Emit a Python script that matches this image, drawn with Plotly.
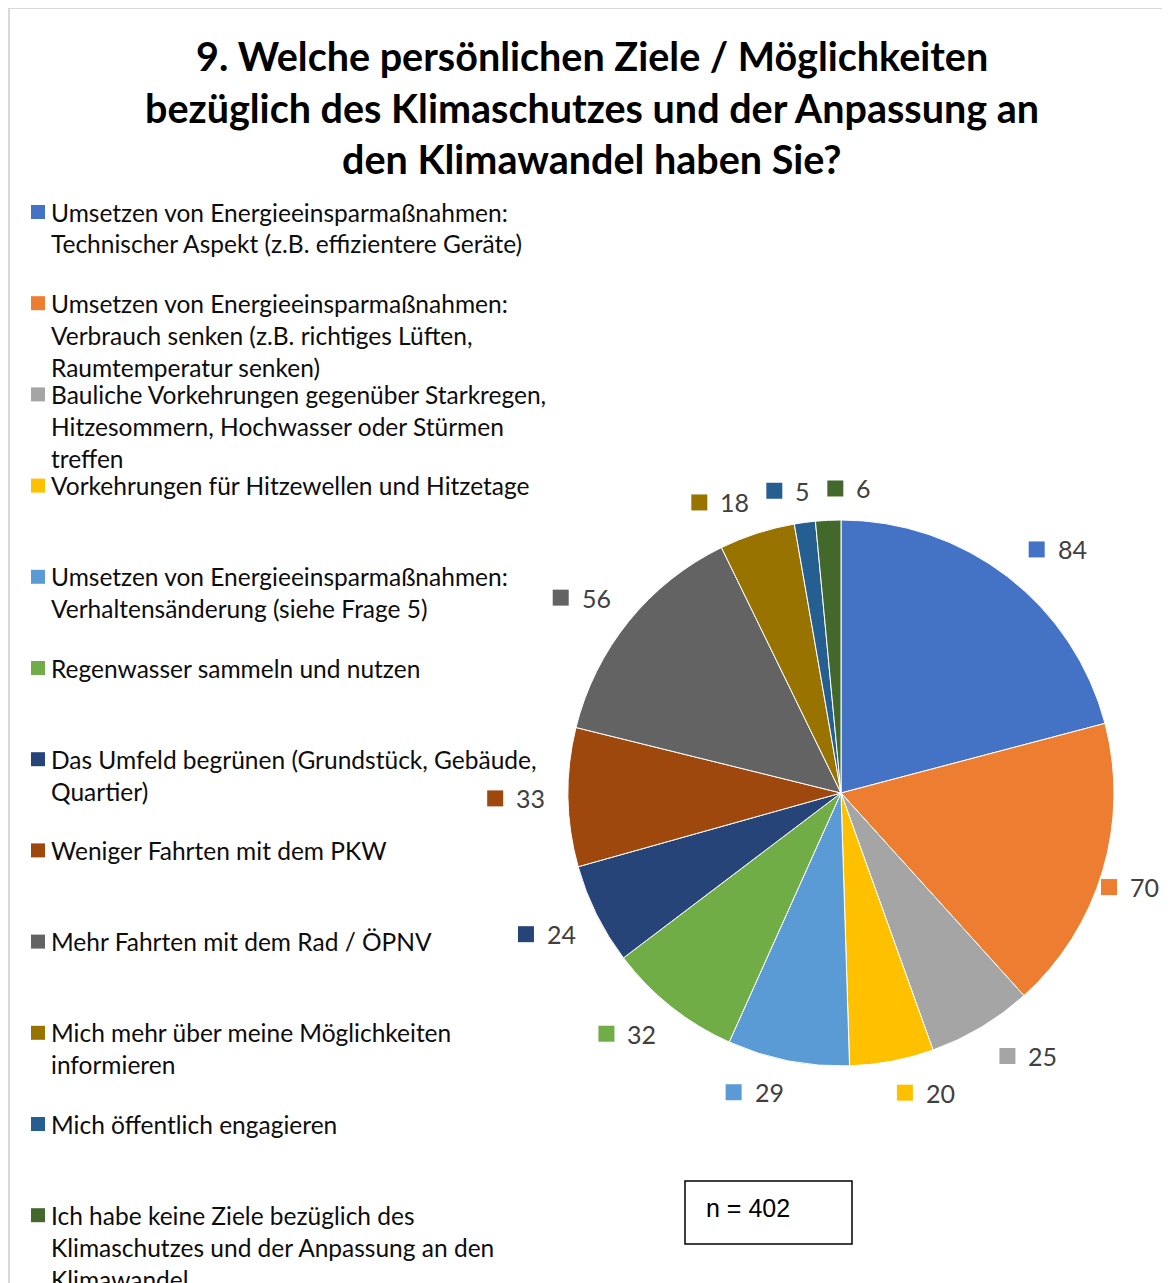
import math
import plotly.graph_objects as go

# ---------------- data ----------------
categories = [
    "Umsetzen von Energieeinsparmaßnahmen:<br>Technischer Aspekt (z.B. effizientere Geräte)",
    "Umsetzen von Energieeinsparmaßnahmen:<br>Verbrauch senken (z.B. richtiges Lüften,<br>Raumtemperatur senken)",
    "Bauliche Vorkehrungen gegenüber Starkregen,<br>Hitzesommern, Hochwasser oder Stürmen<br>treffen",
    "Vorkehrungen für Hitzewellen und Hitzetage",
    "Umsetzen von Energieeinsparmaßnahmen:<br>Verhaltensänderung (siehe Frage 5)",
    "Regenwasser sammeln und nutzen",
    "Das Umfeld begrünen (Grundstück, Gebäude,<br>Quartier)",
    "Weniger Fahrten mit dem PKW",
    "Mehr Fahrten mit dem Rad / ÖPNV",
    "Mich mehr über meine Möglichkeiten<br>informieren",
    "Mich öffentlich engagieren",
    "Ich habe keine Ziele bezüglich des<br>Klimaschutzes und der Anpassung an den<br>Klimawandel",
]
values = [84, 70, 25, 20, 29, 32, 24, 33, 56, 18, 5, 6]
colors = ["#4472C4", "#ED7D31", "#A5A5A5", "#FFC000", "#5B9BD5", "#70AD47",
          "#264478", "#9E480E", "#636363", "#997300", "#255E91", "#43682B"]
title_lines = [
    "9. Welche persönlichen Ziele / Möglichkeiten",
    "bezüglich des Klimaschutzes und der Anpassung an",
    "den Klimawandel haben Sie?",
]
n_text = "n = 402"

# ---------------- layout helpers ----------------
W, H = 1162, 1275
OFF = 8  # page body margin
RIGHT_LIMIT = 1160


def X(px):
    return (px - OFF) / W


def Y(py):
    return 1 - (py - OFF) / H


CX, CY, R = 841, 793, 273
FONT = "Lato"

fig = go.Figure()
fig.add_trace(go.Pie(
    values=values,
    labels=[c.replace("<br>", " ") for c in categories],
    sort=False,
    direction="clockwise",
    rotation=0,
    marker=dict(colors=colors, line=dict(color="white", width=1)),
    textinfo="none",
    hoverinfo="label+value",
    showlegend=False,
    domain=dict(x=[X(CX - R), X(CX + R)], y=[Y(CY + R), Y(CY - R)]),
))

annotations = []
shapes = []

# frame
shapes.append(dict(type="rect", xref="paper", yref="paper",
                   x0=X(9), x1=X(1200), y0=Y(1300), y1=Y(8),
                   line=dict(color="#D9D9D9", width=2), fillcolor="rgba(0,0,0,0)"))

# title
for j, t in enumerate(title_lines):
    annotations.append(dict(text="<b>%s</b>" % t, x=X(592), y=Y(56 + 51.5 * j),
                            xref="paper", yref="paper", xanchor="center", yanchor="middle",
                            showarrow=False, font=dict(family=FONT, size=39.5, color="#000000")))

# legend
for i, (cat, col) in enumerate(zip(categories, colors)):
    y0 = 212 + 91.2 * i
    shapes.append(dict(type="rect", xref="paper", yref="paper",
                       x0=X(31), x1=X(45), y0=Y(y0 + 7), y1=Y(y0 - 7),
                       line=dict(width=0), fillcolor=col))
    for j, line in enumerate(cat.split("<br>")):
        annotations.append(dict(text=line, x=X(49), y=Y(y0 + 32 * j),
                                xref="paper", yref="paper", xanchor="left", yanchor="middle",
                                showarrow=False, font=dict(family=FONT, size=24.5, color="#0D0D0D")))

# data labels (positions derived from cumulative values)
total = sum(values)
cum = 0
placed = []
R0 = 1.08 * R
LH = 20
for v, col in zip(values, colors):
    a = math.radians((cum + v / 2) / total * 360)
    cum += v
    px = CX + R0 * math.sin(a)
    py = CY - R0 * math.cos(a)
    gw = 31 + 14 * len(str(v))
    sx = max(-1.0, min(1.0, 5 * math.sin(a)))
    sy = max(-1.0, min(1.0, -5 * math.cos(a)))
    cx = px + sx * gw / 2 + 16 * max(math.sin(a), 0) * abs(math.cos(a))
    cy = py + sy * LH / 2
    left = cx - gw / 2
    if left + gw > RIGHT_LIMIT:
        left = RIGHT_LIMIT - gw
    if placed and cy < CY:
        pl, pr, pyy = placed[-1]
        if abs(pyy - cy) < 30 and left < pr + 16:
            left = pr + 16
    placed.append((left, left + gw, cy))
    shapes.append(dict(type="rect", xref="paper", yref="paper",
                       x0=X(left), x1=X(left + 16), y0=Y(cy + 8), y1=Y(cy - 8),
                       line=dict(width=0), fillcolor=col))
    annotations.append(dict(text=str(v), x=X(left + 27), y=Y(cy),
                            xref="paper", yref="paper", xanchor="left", yanchor="middle",
                            showarrow=False, font=dict(family=FONT, size=25, color="#404040")))

# n box
shapes.append(dict(type="rect", xref="paper", yref="paper",
                   x0=X(685), x1=X(852), y0=Y(1244), y1=Y(1181),
                   line=dict(color="#000000", width=1.5), fillcolor="white"))
annotations.append(dict(text=n_text, x=X(704), y=Y(1208), xref="paper", yref="paper",
                        xanchor="left", yanchor="middle", showarrow=False,
                        font=dict(family="Liberation Sans", size=25, color="#000000")))

fig.update_layout(
    width=W, height=H,
    margin=dict(l=0, r=0, t=0, b=0),
    paper_bgcolor="white",
    plot_bgcolor="white",
    annotations=annotations,
    shapes=shapes,
)

fig.write_html("out.html")
